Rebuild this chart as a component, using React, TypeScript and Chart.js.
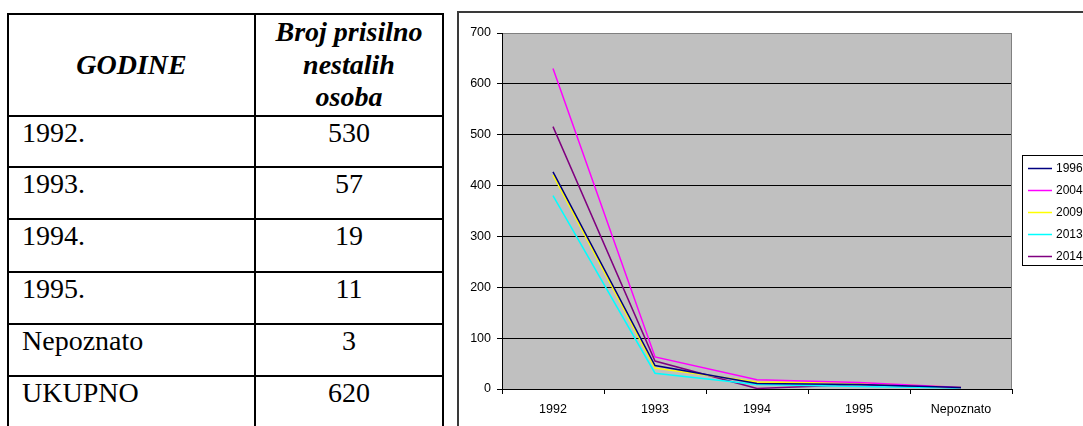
import React, { useEffect, useRef } from "react";
import { Chart, registerables } from "chart.js";

Chart.register(...registerables);

// ---- Table data ----
const TABLE_HEAD_LEFT = "GODINE";
const TABLE_HEAD_RIGHT_LINES = ["Broj prisilno", "nestalih", "osoba"];
const TABLE_YEARS = ["1992.", "1993.", "1994.", "1995.", "Nepoznato", "UKUPNO"];
const TABLE_COUNTS = ["530", "57", "19", "11", "3", "620"];

// ---- Chart data ----
const CATEGORIES = ["1992", "1993", "1994", "1995", "Nepoznato"];
const SERIES_LABELS = ["1996", "2004", "2009", "2013", "2014"];
const S_1996 = [427, 46, 11, 9, 3];
const S_2004 = [630, 63, 18, 13, 3];
const S_2009 = [421, 41, 14, 12, 3];
const S_2013 = [380, 31, 9, 5, 2];
const S_2014 = [516, 55, 1, 9, 2];
const SERIES_VALUES = [S_1996, S_2004, S_2009, S_2013, S_2014];
const SERIES_COLORS = ["#000080", "#FF00FF", "#FFFF00", "#00FFFF", "#800080"];
const Y_MIN = 0;
const Y_MAX = 700;
const Y_STEP = 100;

const SANS = "'Liberation Sans', Arial, sans-serif";
const SERIF = "'Liberation Serif', 'Times New Roman', serif";

const ROW_LINES = [115, 166, 218, 271, 323, 375];

export default function App() {
  const ref = useRef<HTMLCanvasElement | null>(null);

  useEffect(() => {
    const canvas = ref.current;
    if (!canvas) return;

    const bgPlugin = {
      id: "plotBg",
      beforeDraw(chart: any) {
        const { ctx, chartArea } = chart;
        ctx.save();
        ctx.fillStyle = "#C0C0C0";
        ctx.fillRect(chartArea.left, chartArea.top, chartArea.right - chartArea.left, chartArea.bottom - chartArea.top);
        ctx.restore();
      },
      beforeDatasetsDraw(chart: any) {
        const { ctx, chartArea } = chart;
        ctx.save();
        ctx.strokeStyle = "#808080";
        ctx.lineWidth = 1;
        ctx.beginPath();
        ctx.moveTo(Math.round(chartArea.right) - 0.5, chartArea.top);
        ctx.lineTo(Math.round(chartArea.right) - 0.5, chartArea.bottom);
        ctx.stroke();
        ctx.restore();
      },
    };

    const legendPlugin = {
      id: "boxLegend",
      afterDraw(chart: any) {
        const { ctx } = chart;
        const left = 563.5;
        const top = 142.5;
        const height = 110;
        ctx.save();
        ctx.fillStyle = "#fff";
        ctx.fillRect(left, top, 200, height);
        ctx.strokeStyle = "#000";
        ctx.lineWidth = 1;
        ctx.strokeRect(left, top, 200, height);
        ctx.font = `12px ${SANS}`;
        ctx.textBaseline = "middle";
        chart.data.datasets.forEach((ds: any, i: number) => {
          const y = 155 + i * 22;
          ctx.strokeStyle = ds.borderColor;
          ctx.lineWidth = 1.5;
          ctx.beginPath();
          ctx.moveTo(569, y + 0.5);
          ctx.lineTo(593, y + 0.5);
          ctx.stroke();
          ctx.fillStyle = "#000";
          ctx.fillText(ds.label, 597, y + 1);
        });
        ctx.restore();
      },
    };

    const font = { family: SANS, size: 12.5 };

    const chart = new Chart(canvas, {
      type: "line",
      data: {
        labels: CATEGORIES,
        datasets: SERIES_LABELS.map((label, i) => ({
          label,
          data: SERIES_VALUES[i],
          borderColor: SERIES_COLORS[i],
          backgroundColor: SERIES_COLORS[i],
          borderWidth: 1.5,
          pointRadius: 0,
          tension: 0,
          fill: false,
        })),
      },
      options: {
        animation: false,
        responsive: false,
        devicePixelRatio: 1,
        layout: { padding: { left: 0, right: 71, top: 20, bottom: 0 } },
        plugins: {
          legend: { display: false },
          tooltip: { enabled: false },
        },
        scales: {
          x: {
            offset: true,
            grid: {
              offset: true,
              drawOnChartArea: false,
              drawTicks: true,
              tickLength: 5,
              color: "#000",
            },
            border: { color: "#000", width: 1 },
            ticks: { color: "#000", font, padding: 8, maxRotation: 0, autoSkip: false },
            afterFit: (s: any) => {
              s.height = 37;
            },
          },
          y: {
            min: Y_MIN,
            max: Y_MAX,
            ticks: { stepSize: Y_STEP, color: "#000", font, padding: 6 },
            grid: {
              color: (c: any) => (c.tick && c.tick.value === Y_MAX ? "#808080" : "#000"),
              tickColor: "#000",
              tickLength: 5,
              drawTicks: true,
            },
            border: { color: "#000", width: 1 },
            afterFit: (s: any) => {
              s.width = 43;
            },
          },
        },
      } as any,
      plugins: [bgPlugin, legendPlugin],
    });

    return () => chart.destroy();
  }, []);

  const hLine = (y: number, key: string) => (
    <div key={key} style={{ position: "absolute", left: 7, top: y, width: 437, height: 2, background: "#000" }} />
  );
  const vLine = (x: number, key: string) => (
    <div key={key} style={{ position: "absolute", left: x, top: 13, width: 2, height: 420, background: "#000" }} />
  );

  const cellText: React.CSSProperties = {
    position: "absolute",
    fontFamily: SERIF,
    fontSize: 28,
    lineHeight: "32px",
    color: "#000",
    whiteSpace: "nowrap",
  };

  return (
    <div
      style={{
        position: "absolute",
        left: 0,
        top: 0,
        width: 1083,
        height: 426,
        overflow: "hidden",
        background: "#fff",
      }}
    >
      {/* Table */}
      {hLine(13, "top")}
      {ROW_LINES.map((y, i) => hLine(y, "r" + i))}
      {hLine(427, "bottom")}
      {vLine(7, "v0")}
      {vLine(254, "v1")}
      {vLine(442, "v2")}

      <div
        style={{
          position: "absolute",
          left: 9,
          top: 15,
          width: 245,
          height: 100,
          display: "flex",
          alignItems: "center",
          justifyContent: "center",
          fontFamily: SERIF,
          fontSize: 28,
          lineHeight: "32.5px",
          fontWeight: "bold",
          fontStyle: "italic",
        }}
      >
        {TABLE_HEAD_LEFT}
      </div>
      <div
        style={{
          position: "absolute",
          left: 256,
          top: 15,
          width: 186,
          height: 100,
          display: "flex",
          alignItems: "center",
          justifyContent: "center",
          textAlign: "center",
          fontFamily: SERIF,
          fontSize: 28,
          lineHeight: "32.5px",
          fontWeight: "bold",
          fontStyle: "italic",
        }}
      >
        <div>
          {TABLE_HEAD_RIGHT_LINES.map((l, i) => (
            <div key={i}>{l}</div>
          ))}
        </div>
      </div>

      {TABLE_YEARS.map((t, i) => (
        <div key={"y" + i} style={{ ...cellText, left: 22, top: ROW_LINES[i] + 2 }}>
          {t}
        </div>
      ))}
      {TABLE_COUNTS.map((t, i) => (
        <div
          key={"c" + i}
          style={{ ...cellText, left: 256, width: 186, textAlign: "center", top: ROW_LINES[i] + 2 }}
        >
          {t}
        </div>
      ))}

      {/* Chart frame */}
      <div
        style={{
          position: "absolute",
          left: 457,
          top: 11,
          width: 700,
          height: 500,
          border: "2px solid #3a3a3a",
          boxSizing: "border-box",
        }}
      />
      <canvas
        ref={ref}
        width={624}
        height={413}
        style={{ position: "absolute", left: 459, top: 13, width: 624, height: 413 }}
      />
    </div>
  );
}
